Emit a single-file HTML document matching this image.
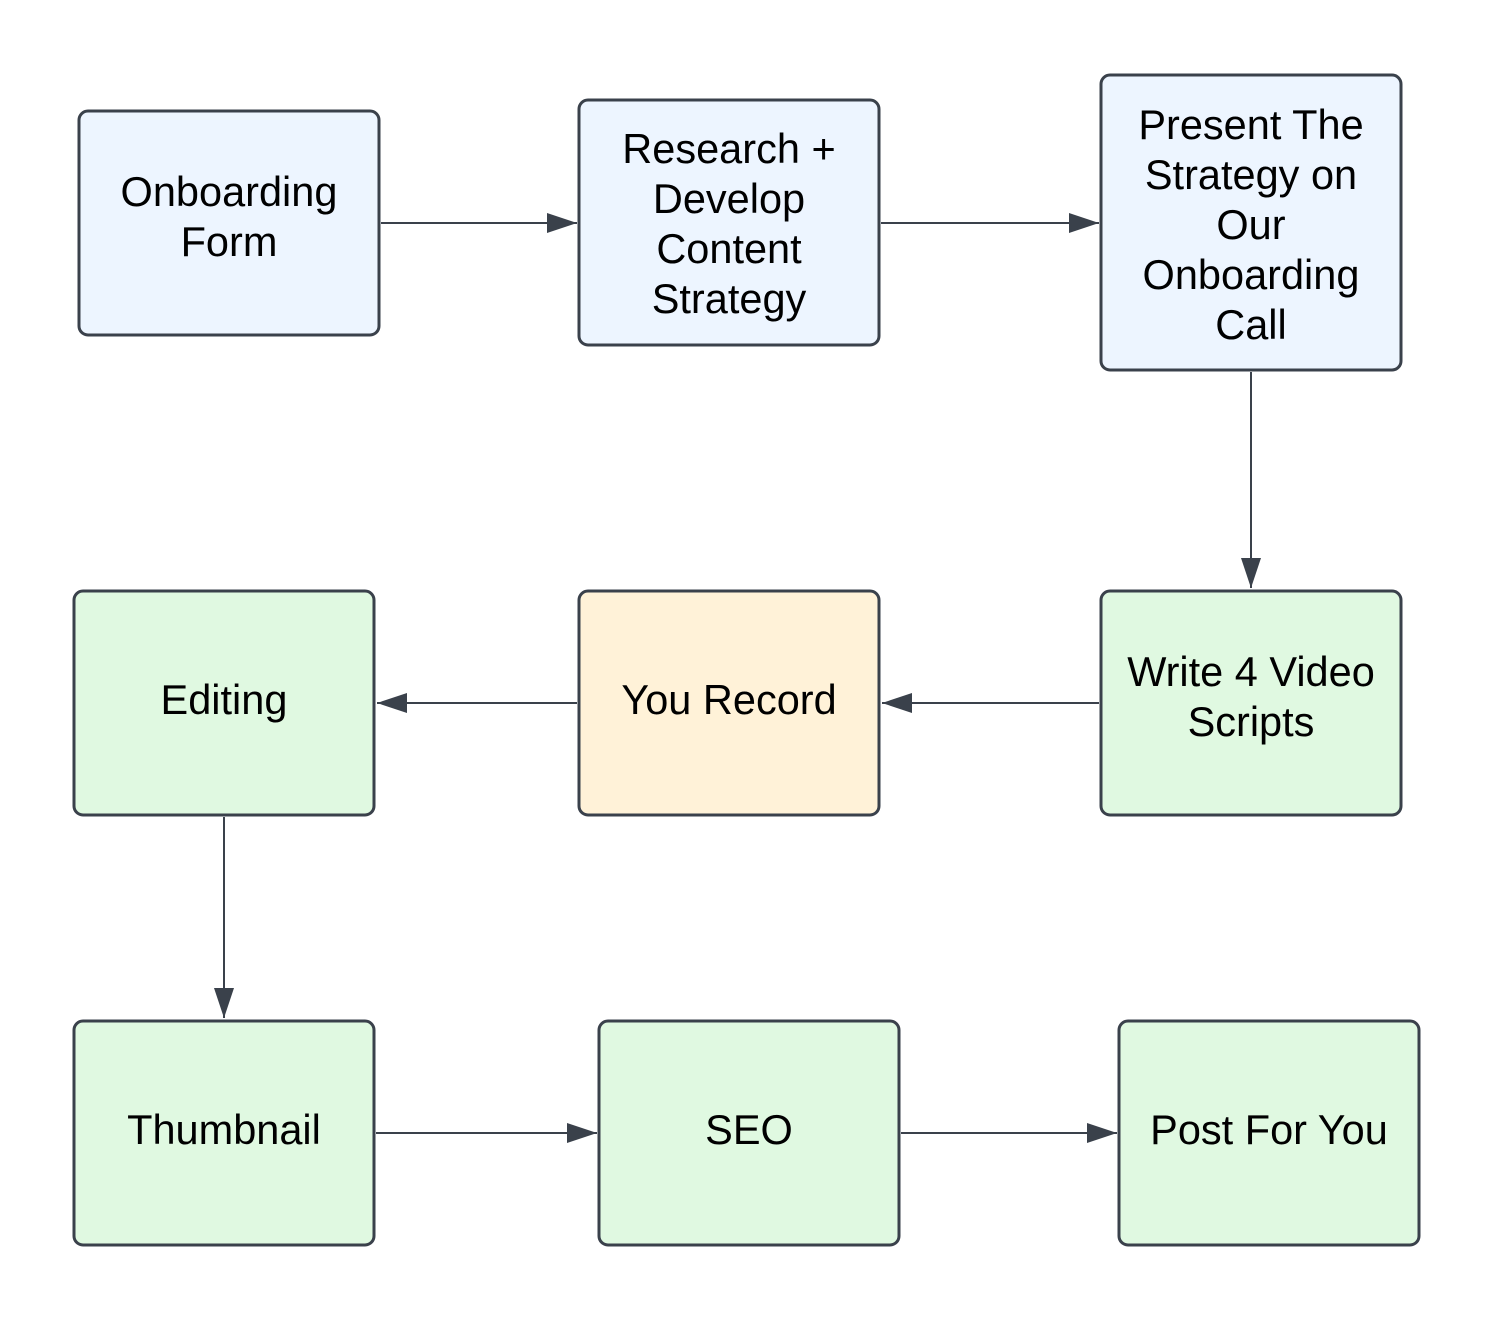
<!DOCTYPE html>
<html><head><style>html,body{margin:0;padding:0;background:#fff}</style></head><body>
<svg width="1494" height="1320" viewBox="0 0 1494 1320" xmlns="http://www.w3.org/2000/svg" font-family="Liberation Sans, Arial, sans-serif" font-size="41.5" text-anchor="middle" fill="#000">
<defs>
<marker id="a" markerWidth="30" markerHeight="20" refX="30" refY="10" orient="auto" markerUnits="userSpaceOnUse"><path d="M0,0 L30,10 L0,20 Z" fill="#3a414b"/></marker>
</defs>
<g stroke="#3a414b" stroke-width="2" fill="none" marker-end="url(#a)">
<line x1="381" y1="223" x2="577" y2="223"/>
<line x1="881" y1="223" x2="1099" y2="223"/>
<line x1="1251" y1="372" x2="1251" y2="588"/>
<line x1="1099" y1="703" x2="882" y2="703"/>
<line x1="577" y1="703" x2="377" y2="703"/>
<line x1="224" y1="817" x2="224" y2="1018"/>
<line x1="376" y1="1133" x2="597" y2="1133"/>
<line x1="901" y1="1133" x2="1117" y2="1133"/>
</g>
<g stroke="#3a414b" stroke-width="3">
<rect x="79" y="111" width="300" height="224" rx="9" fill="#edf5ff"/>
<rect x="579" y="100" width="300" height="245" rx="9" fill="#edf5ff"/>
<rect x="1101" y="75" width="300" height="295" rx="9" fill="#edf5ff"/>
<rect x="74" y="591" width="300" height="224" rx="9" fill="#e0f9e1"/>
<rect x="579" y="591" width="300" height="224" rx="9" fill="#fff2d8"/>
<rect x="1101" y="591" width="300" height="224" rx="9" fill="#e0f9e1"/>
<rect x="74" y="1021" width="300" height="224" rx="9" fill="#e0f9e1"/>
<rect x="599" y="1021" width="300" height="224" rx="9" fill="#e0f9e1"/>
<rect x="1119" y="1021" width="300" height="224" rx="9" fill="#e0f9e1"/>
</g>
<text x="229" y="206">Onboarding</text><text x="229" y="256">Form</text>
<text x="729" y="163">Research +</text><text x="729" y="213">Develop</text><text x="729" y="263">Content</text><text x="729" y="313">Strategy</text>
<text x="1251" y="139">Present The</text><text x="1251" y="189">Strategy on</text><text x="1251" y="239">Our</text><text x="1251" y="289">Onboarding</text><text x="1251" y="339">Call</text>
<text x="224" y="714">Editing</text>
<text x="729" y="714">You Record</text>
<text x="1251" y="686">Write 4 Video</text><text x="1251" y="736">Scripts</text>
<text x="224" y="1144">Thumbnail</text>
<text x="749" y="1144">SEO</text>
<text x="1269" y="1144">Post For You</text>
</svg>
</body></html>
